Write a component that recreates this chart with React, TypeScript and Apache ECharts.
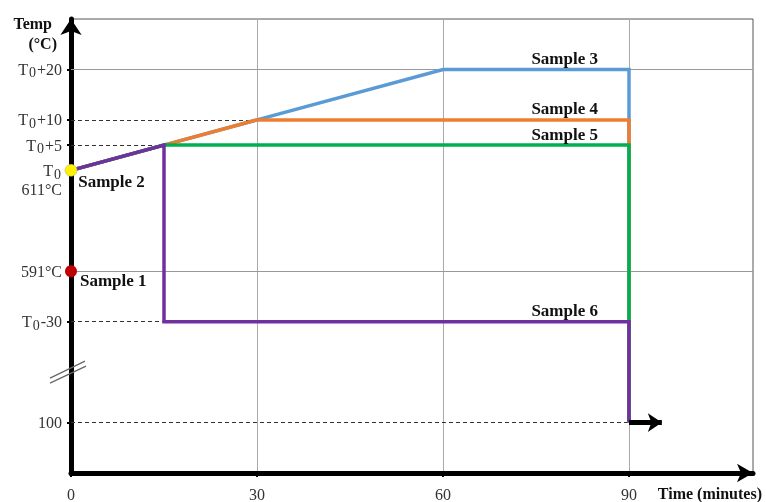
import React, { useEffect, useRef } from 'react';
import * as echarts from 'echarts';

// Temperature axis is broken: values below T0-30 (581) are compressed;
// 561 is the axis position that stands for 100 °C, 571 is where the break marks sit.
const BREAK_100 = 561;
const BREAK_MARK = 571;

// Time (minutes) / Temperature (°C) for each sample's heating profile
const sample3X = [0, 15, 30, 60, 90, 90];
const sample3Y = [611, 616, 621, 631, 631, BREAK_100];
const sample4X = [0, 15, 30, 90, 90];
const sample4Y = [611, 616, 621, 621, BREAK_100];
const sample5X = [0, 15, 90, 90];
const sample5Y = [611, 616, 616, BREAK_100];
const sample6X = [0, 15, 15, 90, 90];
const sample6Y = [611, 616, 581, 581, BREAK_100];

const lineNames = ['Sample 3', 'Sample 4', 'Sample 5', 'Sample 6'];
const lineColors = ['#5B9BD5', '#ED7D31', '#00B050', '#7030A0'];
const lineXs = [sample3X, sample4X, sample5X, sample6X];
const lineYs = [sample3Y, sample4Y, sample5Y, sample6Y];
// index of the point where each line's label is attached (end of plateau)
const labelIdx = [4, 3, 2, 3];

// Single-point samples
const pointNames = ['Sample 1', 'Sample 2'];
const pointX = [0, 0];
const pointY = [591, 611];
const pointColors = ['#C00000', '#FFF200'];

// Axis ticks
const xTickValues = [0, 30, 60, 90];
const yTickValues = [631, 621, 616, 611, 591, 581, BREAK_100];
const yTickLabels = ['T0+20', 'T0+10', 'T0+5', 'T0\n611°C', '591°C', 'T0-30', '100'];

// Reference lines
const solidRefY = [631, 591];
const dashedRefY = [621, 616, 581, BREAK_100];
const dashedRefEndX = [30, 15, 15, 90];

// Cooling arrow after 90 minutes
const arrowStart = [90, BREAK_100];
const arrowEnd = [95.3, BREAK_100];

const FONT = 'Liberation Serif';

function fmtY(v: number): string {
  const i = yTickValues.indexOf(v);
  if (i < 0) return '';
  const lab = yTickLabels[i];
  const parts = lab.split('\n');
  const conv = (s: string) =>
    s.startsWith('T0') ? '{t|T}{s|0}{t|' + s.slice(2) + '}' : '{t|' + s + '}';
  if (parts.length === 2) {
    return '{e| }\n' + conv(parts[0]) + '\n{n|' + parts[1] + '}';
  }
  return conv(lab);
}

export default function App() {
  const ref = useRef<HTMLDivElement>(null);
  useEffect(() => {
    if (!ref.current) return;
    const chart = echarts.init(ref.current, null, { renderer: 'svg' });

    const lineSeries = lineNames.map((name, k) => ({
      type: 'line',
      name,
      z: 3 + k,
      symbol: 'none',
      showSymbol: false,
      lineStyle: { color: lineColors[k], width: 3.5, join: 'miter' },
      data: lineXs[k].map((x, j) => [x, lineYs[k][j]]),
    }));

    const labelStyle = {
      fontFamily: FONT,
      fontWeight: 'bold',
      fontSize: 17,
      color: '#111',
    };

    const option: any = {
      animation: false,
      grid: {
        left: 71,
        right: 13,
        top: 19,
        bottom: 29,
        show: true,
        borderColor: '#555',
        borderWidth: 1,
      },
      xAxis: {
        type: 'value',
        min: 0,
        max: 110,
        interval: 30,
        name: 'Time (minutes)',
        nameLocation: 'end',
        nameGap: 9,
        nameTextStyle: {
          fontFamily: FONT,
          fontWeight: 'bold',
          fontSize: 16,
          color: '#111',
          align: 'right',
          verticalAlign: 'top',
          padding: [12, 0, 0, 0],
        },
        axisLine: {
          show: true,
          onZero: false,
          lineStyle: { color: '#000', width: 5 },
          symbol: ['none', 'arrow'],
          symbolSize: [14, 16],
        },
        axisTick: {
          show: true,
          customValues: xTickValues,
          length: 4,
          lineStyle: { color: '#000', width: 2 },
        },
        axisLabel: {
          customValues: xTickValues,
          fontFamily: FONT,
          fontSize: 16,
          color: '#333',
          margin: 13,
        },
        splitLine: { show: true, lineStyle: { color: '#aaa', width: 1 } },
      },
      yAxis: {
        type: 'value',
        min: 551,
        max: 641,
        interval: 5,
        name: '{a|Temp}\n{b|(°C)}',
        nameLocation: 'end',
        nameGap: 6,
        nameTextStyle: {
          align: 'right',
          verticalAlign: 'top',
          padding: [0, 14, 0, 0],
          rich: {
            a: { fontFamily: FONT, fontWeight: 'bold', fontSize: 16, color: '#111', lineHeight: 20, padding: [0, 5, 0, 0] },
            b: { fontFamily: FONT, fontWeight: 'bold', fontSize: 16, color: '#111', lineHeight: 20 },
          },
        },
        axisLine: {
          show: true,
          onZero: false,
          lineStyle: { color: '#000', width: 5 },
          symbol: ['none', 'arrow'],
          symbolSize: [16, 16],
        },
        axisTick: {
          show: true,
          customValues: yTickValues,
          length: 4,
          lineStyle: { color: '#000', width: 2 },
        },
        axisLabel: {
          customValues: yTickValues,
          formatter: (v: number) => fmtY(v),
          margin: 9,
          rich: {
            t: { fontFamily: FONT, fontSize: 16, color: '#333', lineHeight: 17 },
            s: { fontFamily: FONT, fontSize: 14, color: '#333', lineHeight: 8, padding: [7, 1, 0, 1] },
            n: { fontFamily: FONT, fontSize: 16, color: '#333', lineHeight: 18, padding: [2, 0, 0, 0] },
            e: { fontFamily: FONT, fontSize: 16, lineHeight: 19 },
          },
        },
        splitLine: { show: false },
      },
      series: [
        {
          type: 'lines',
          coordinateSystem: 'cartesian2d',
          z: 1,
          silent: true,
          lineStyle: { color: '#999', width: 1, type: 'solid', opacity: 1 },
          data: solidRefY.map((y) => ({ coords: [[0, y], [110, y]] })),
        },
        {
          type: 'lines',
          coordinateSystem: 'cartesian2d',
          z: 1,
          silent: true,
          lineStyle: { color: '#333', width: 1, type: [4, 3], opacity: 1 },
          data: dashedRefY.map((y, i) => ({ coords: [[0, y], [dashedRefEndX[i], y]] })),
        },
        ...lineSeries,
        {
          type: 'lines',
          coordinateSystem: 'cartesian2d',
          z: 8,
          silent: true,
          symbol: ['none', 'arrow'],
          symbolSize: 14,
          lineStyle: { color: '#000', width: 5, opacity: 1 },
          data: [{ coords: [arrowStart, arrowEnd] }],
        },
        {
          // labels for the profile lines, anchored at the end of each plateau
          type: 'scatter',
          z: 9,
          silent: true,
          symbolSize: 0,
          itemStyle: { opacity: 1 },
          data: lineNames.map((n, k) => ({
            name: n,
            value: [lineXs[k][labelIdx[k]], lineYs[k][labelIdx[k]]],
            label: {
              show: true,
              formatter: n,
              position: 'inside',
              align: 'right',
              offset: [-31, -11],
              ...labelStyle,
            },
          })),
        },
        {
          type: 'scatter',
          z: 10,
          symbolSize: 12,
          itemStyle: { opacity: 1 },
          data: pointNames.map((n, i) => ({
            name: n,
            value: [pointX[i], pointY[i]],
            itemStyle: { color: pointColors[i], opacity: 1, borderColor: '#aa9', borderWidth: i === 1 ? 0.5 : 0 },
            label: {
              show: true,
              formatter: n,
              position: 'right',
              distance: i === 0 ? 3 : 1,
              offset: i === 0 ? [0, 9] : [0, 11],
              ...labelStyle,
            },
          })),
        },
      ],
    };
    chart.setOption(option);

    const p = chart.convertToPixel({ gridIndex: 0 }, [0, BREAK_MARK]) as number[];
    const bx = p[0];
    const by = p[1];
    chart.setOption({
      graphic: [
        { type: 'line', z: 20, shape: { x1: bx - 21, y1: by + 6, x2: bx + 14, y2: by - 11 }, style: { stroke: '#666', lineWidth: 1.2 } },
        { type: 'line', z: 20, shape: { x1: bx - 21, y1: by + 11, x2: bx + 15, y2: by - 6 }, style: { stroke: '#666', lineWidth: 1.2 } },
      ],
    });

    return () => chart.dispose();
  }, []);
  return <div ref={ref} style={{ position: 'fixed', left: 0, top: 0, width: 766, height: 502 }} />;
}
